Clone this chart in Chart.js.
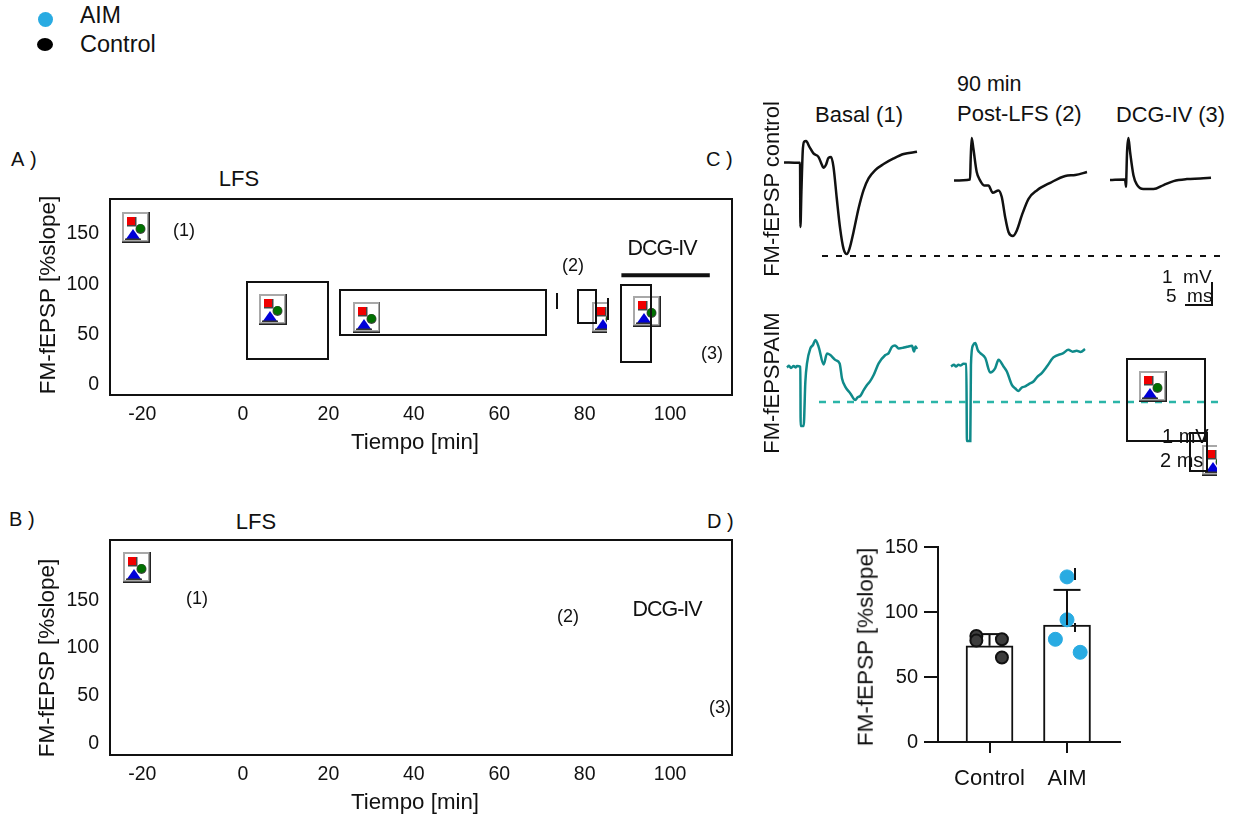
<!DOCTYPE html>
<html>
<head>
<meta charset="utf-8">
<title>FM-fEPSP</title>
<script src="https://cdn.jsdelivr.net/npm/chart.js@4"></script>
<style>
    html, body { margin: 0; padding: 0; background: #fff; }
    #page { position: relative; width: 1243px; height: 816px; overflow: hidden; font-family: "Liberation Sans", Arial, sans-serif; color: #111; }
    #page canvas { position: absolute; }
    .txt { position: absolute; white-space: pre; line-height: 1; }
    .box { position: absolute; border: 2px solid #111; box-sizing: border-box; }
    .icon { position: absolute; overflow: hidden; }
    .dot { position: absolute; border-radius: 50%; }
</style>
</head>
<body>
<div id="page"></div>
<script>
// panels A and B: time course frames
const timeTickPositions = [-23.6, 0, 20, 40, 60, 80, 100];
const timeTickLabels = ['-20', '0', '20', '40', '60', '80', '100'];
const slopeTicks = [0, 50, 100, 150];
const dcgBarTime = [88.6, 109.3];
const dcgBarLevel = [109, 109];

// panel D: bars
const groupNames = ['Control', 'AIM'];
const groupMeans = [74, 90];
const groupUpper = [83, 117];
const controlJitter = [0.83, 0.83, 1.16, 1.16];
const controlValues = [81.5, 78, 79, 65];
const aimJitter = [2, 2, 1.85, 2.17];
const aimValues = [127, 94, 79, 69];
const barTicks = [0, 50, 100, 150];

// panel C: traces, ms and mV from the start of each sweep
const basalControlT = [0, 2.87, 3.2, 3.27, 3.47, 3.73, 4, 4.4, 5.07, 5.87, 6.87, 7.53, 7.87, 8.4, 8.87, 9.4, 9.87, 10.53, 11.2, 11.87, 12.53, 13.07, 13.87, 14.87, 15.87, 16.87, 18.2, 19.87, 21.87, 23.87, 26.53];
const basalControlV = [0, -0.02, -0.02, -3.22, -1.47, 0.53, 1.03, 1.07, 0.78, 0.45, 0.28, -0.1, -0.27, -0.1, 0.23, 0.27, -0.22, -1.8, -3.3, -4.3, -4.57, -4.3, -3.47, -2.3, -1.38, -0.8, -0.38, -0.08, 0.2, 0.42, 0.53];
const postControlT = [0, 3.2, 3.33, 3.53, 3.87, 4.53, 5.2, 6, 6.87, 7.73, 8.87, 9.53, 10.2, 10.87, 11.73, 12.53, 13.53, 14.87, 16.53, 19.2, 22.2, 24.2, 26.53];
const postControlV = [0, 0.05, 1.08, 2.12, 1.58, 0.42, 0, -0.25, -0.25, -0.62, -0.5, -0.83, -1.83, -2.58, -2.78, -2.5, -1.75, -0.92, -0.5, -0.12, 0.22, 0.27, 0.42];
const dcgControlT = [0, 3, 3.2, 3.25, 3.4, 3.67, 4, 4.67, 5.33, 6.67, 8.67, 10.67, 12.67, 15.33, 18, 20.13];
const dcgControlV = [0, 0.03, -0.33, 0.08, 1.42, 2.12, 1.42, 0.25, -0.22, -0.45, -0.45, -0.25, -0.05, 0.05, 0.08, 0.12];
const basalAimT = [0, 0.4, 0.8, 1.33, 1.7, 2, 2.67, 2.73, 3.33, 3.67, 4, 4.67, 5.2, 5.67, 6.33, 7.33, 8, 8.67, 9.67, 10.53, 11, 11.67, 12.67, 13.67, 14.1, 14.67, 15.3, 16, 16.6, 17.33, 18.33, 19.67, 20.3, 21, 21.6, 22.33, 23.2, 24, 25, 25.4, 25.7, 26];
const basalAimV = [0, 0.08, -0.03, 0.07, 0.0, 0.07, 0.03, -2.93, -2.93, -0.72, 0.2, 0.95, 1.12, 1.37, 1.03, 0.15, 0.7, 0.62, 0.37, 0.2, -0.55, -0.97, -1.3, -1.63, -1.5, -1.42, -1.15, -0.88, -0.7, -0.38, 0.2, 0.62, 0.7, 1.03, 1.1, 0.95, 0.98, 1.03, 1.08, 0.8, 1.05, 0.92];
const postAimT = [0, 0.6, 1, 1.5, 1.87, 2.5, 3.07, 3.2, 3.87, 4, 4.4, 4.87, 5.4, 5.87, 6.87, 7.87, 8.87, 9.53, 10.53, 11.2, 12.2, 12.9, 13.53, 14.2, 14.87, 15.6, 16.53, 17.3, 18.2, 19.3, 20.53, 22.53, 23.53, 24.4, 25.2, 26, 26.87];
const postAimV = [0, 0.08, 0.0, 0.09, 0.05, 0.13, 0.12, -3.72, -3.72, 0.08, 1.05, 1.17, 0.8, 0.67, 0.42, -0.3, -0.08, 0.33, 0, -0.25, -0.92, -1.1, -1.22, -1.05, -1, -0.88, -0.75, -0.52, -0.33, 0.02, 0.45, 0.67, 0.83, 0.74, 0.78, 0.72, 0.87];
const refLineT = [0, 81];
const refLineV = [0, 0];
const scaleBarT = [0, 5.4, 5.4];
const scaleBarV = [0, 0, 1.15];

const PX_PER_MS = 5;
const PX_PER_MV = 20;
const FRAME_COLOR = '#111';
const TRACE_TEAL = '#0f8a8a';
const DASH_TEAL = '#2bb5a8';
const AIM_BLUE = '#29abe2';

const page = document.getElementById('page');

function addText(str, x, y, size, opts = {}) {
    const el = document.createElement('span');
    el.className = 'txt';
    el.textContent = str;
    el.style.left = x + 'px';
    el.style.top = y + 'px';
    el.style.fontSize = size + 'px';
    if (opts.spacing) el.style.letterSpacing = opts.spacing + 'px';
    const shift = opts.left ? '0' : '-50%';
    el.style.transform = `translate(${shift}, -50%)` + (opts.rotate ? ' rotate(-90deg)' : '');
    el.style.zIndex = 5;
    page.appendChild(el);
}

function addBox(x1, y1, x2, y2) {
    const el = document.createElement('div');
    el.className = 'box';
    el.style.cssText = `left:${x1}px;top:${y1}px;width:${x2 - x1 + 2}px;height:${y2 - y1 + 2}px;z-index:3`;
    if (x1 === x2) el.style.borderRight = 'none';
    page.appendChild(el);
}

function addIcon(x, y, w = 28, h = 31) {
    const el = document.createElement('div');
    el.className = 'icon';
    el.style.cssText = `left:${x}px;top:${y}px;width:${w}px;height:${h}px;z-index:2`;
    el.innerHTML = `<svg width="28" height="31" viewBox="0 0 28 31" style="display:block">
        <rect width="28" height="31" fill="#222"/>
        <rect width="26.5" height="29.5" fill="#a8a8a8"/>
        <rect x="2" y="2" width="23" height="26" fill="#fff"/>
        <rect x="5" y="5" width="9.5" height="9.5" fill="#444"/>
        <rect x="5" y="5" width="8" height="8" fill="#f00000"/>
        <circle cx="18.5" cy="17" r="5" fill="#444"/>
        <circle cx="18.5" cy="16.5" r="4.3" fill="#007000"/>
        <path d="M4 27 L11 17 L18 27 Z" fill="#0000d8"/>
        <rect x="3" y="26.5" width="16" height="1.5" fill="#333"/>
    </svg>`;
    page.appendChild(el);
}

function addDot(cx, cy, rx, ry, color) {
    const el = document.createElement('div');
    el.className = 'dot';
    el.style.cssText = `left:${cx - rx}px;top:${cy - ry}px;width:${rx * 2}px;height:${ry * 2}px;background:${color}`;
    page.appendChild(el);
}

function addCanvas(x, y, w, h) {
    const canvas = document.createElement('canvas');
    canvas.width = w;
    canvas.height = h;
    canvas.style.left = x + 'px';
    canvas.style.top = y + 'px';
    page.appendChild(canvas);
    return canvas;
}

// scales reserve room for their end labels, drop that so the plot area stays where it is put
function fixScaleSize(scale, size) {
    if (scale.isHorizontal()) scale.height = size;
    else scale.width = size;
    scale.paddingTop = scale.paddingBottom = scale.paddingLeft = scale.paddingRight = 0;
}

const framePlugin = {
    id: 'frame',
    afterDraw(chart) {
        const { ctx, chartArea: a } = chart;
        ctx.save();
        ctx.strokeStyle = FRAME_COLOR;
        ctx.lineWidth = 2;
        ctx.strokeRect(a.left, a.top, a.right - a.left, a.bottom - a.top);
        ctx.restore();
    }
};

// time course frame, plot area is placed exactly on the given box
function createTimeChart(box, yMin, yMax, datasets) {
    const gutterLeft = 100, gutterBottom = 40, pad = 2;
    const canvas = addCanvas(box.left - gutterLeft, box.top - pad,
        box.right - box.left + gutterLeft + pad, box.bottom - box.top + gutterBottom + pad);
    const font = { family: '"Liberation Sans"', size: 19.5 };
    return new Chart(canvas, {
        type: 'line',
        data: { datasets },
        plugins: [framePlugin],
        options: {
            responsive: false,
            animation: false,
            layout: { autoPadding: false, padding: { top: pad, right: pad } },
            plugins: { legend: { display: false }, tooltip: { enabled: false } },
            scales: {
                x: {
                    type: 'linear',
                    min: -31.15,
                    max: 114.5,
                    grid: { display: false, drawTicks: false },
                    border: { display: false },
                    afterBuildTicks: scale => { scale.ticks = timeTickPositions.map(value => ({ value })); },
                    afterFit: scale => fixScaleSize(scale, gutterBottom),
                    ticks: {
                        color: FRAME_COLOR, font, padding: 8, maxRotation: 0, autoSkip: false,
                        callback: value => timeTickLabels[timeTickPositions.indexOf(value)]
                    }
                },
                y: {
                    min: yMin,
                    max: yMax,
                    grid: { display: false, drawTicks: false },
                    border: { display: false },
                    afterBuildTicks: scale => { scale.ticks = slopeTicks.map(value => ({ value })); },
                    afterFit: scale => fixScaleSize(scale, gutterLeft),
                    ticks: { color: FRAME_COLOR, font, padding: 11 }
                }
            }
        }
    });
}

function createBarChart() {
    const canvas = addCanvas(850, 537, 280, 260);
    const tickFont = { family: '"Liberation Sans"', size: 20 };
    const toPoints = (xs, ys) => xs.map((x, i) => ({ x, y: ys[i] }));
    const errorSet = i => ({
        type: 'line',
        data: [{ x: i + 1, y: groupMeans[i] }, { x: i + 1, y: groupUpper[i] }],
        borderColor: FRAME_COLOR,
        borderWidth: 2,
        pointStyle: 'line',
        pointRadius: [0, 13.5],
        pointBorderColor: FRAME_COLOR,
        pointBorderWidth: 2,
        order: 3
    });
    new Chart(canvas, {
        type: 'bar',
        data: {
            datasets: [
                {
                    data: toPoints([1, 2], groupMeans),
                    backgroundColor: '#fff',
                    borderColor: FRAME_COLOR,
                    borderWidth: 2,
                    barThickness: 47,
                    order: 5
                },
                {
                    type: 'scatter',
                    data: toPoints(aimJitter, aimValues),
                    backgroundColor: AIM_BLUE,
                    borderColor: AIM_BLUE,
                    pointRadius: 7,
                    order: 4
                },
                errorSet(0),
                errorSet(1),
                {
                    type: 'scatter',
                    data: toPoints(controlJitter, controlValues),
                    backgroundColor: '#3d3d3d',
                    borderColor: '#111',
                    borderWidth: 2,
                    pointRadius: 6,
                    order: 2
                }
            ]
        },
        options: {
            responsive: false,
            animation: false,
            layout: { autoPadding: false, padding: { top: 10, right: 10 } },
            plugins: { legend: { display: false }, tooltip: { enabled: false } },
            scales: {
                x: {
                    type: 'linear',
                    offset: false,
                    min: 0.335,
                    max: 2.684,
                    grid: { offset: false, drawOnChartArea: false, color: FRAME_COLOR, lineWidth: 2, tickLength: 11 },
                    border: { color: FRAME_COLOR, width: 2 },
                    afterBuildTicks: scale => { scale.ticks = [{ value: 1 }, { value: 2 }]; },
                    afterFit: scale => fixScaleSize(scale, 55),
                    ticks: {
                        color: FRAME_COLOR, font: { family: '"Liberation Sans"', size: 22 }, padding: 13, maxRotation: 0,
                        callback: value => groupNames[value - 1]
                    }
                },
                y: {
                    min: 0,
                    max: 150,
                    grid: { drawOnChartArea: false, color: FRAME_COLOR, lineWidth: 2, tickLength: 14 },
                    border: { color: FRAME_COLOR, width: 2 },
                    afterBuildTicks: scale => { scale.ticks = barTicks.map(value => ({ value })); },
                    afterFit: scale => fixScaleSize(scale, 88),
                    ticks: { color: FRAME_COLOR, font: tickFont, padding: 6 }
                }
            }
        }
    });
}

// one sweep in its own little chart, originX/originY is where t=0, v=0 lands
function createTrace(originX, originY, times, volts, style) {
    const pad = 0.4;
    const tMin = Math.min(...times) - pad, tMax = Math.max(...times) + pad;
    const vMin = Math.min(...volts) - pad, vMax = Math.max(...volts) + pad;
    const canvas = addCanvas(originX + tMin * PX_PER_MS, originY - vMax * PX_PER_MV,
        Math.round((tMax - tMin) * PX_PER_MS), Math.round((vMax - vMin) * PX_PER_MV));
    new Chart(canvas, {
        type: 'line',
        data: {
            datasets: [{
                data: times.map((x, i) => ({ x, y: volts[i] })),
                borderColor: style.color,
                borderWidth: style.width || 2.5,
                borderDash: style.dash || [],
                cubicInterpolationMode: style.smooth ? 'monotone' : 'default',
                pointRadius: 0,
                clip: false
            }]
        },
        options: {
            responsive: false,
            animation: false,
            layout: { autoPadding: false, padding: 0 },
            plugins: { legend: { display: false }, tooltip: { enabled: false } },
            scales: {
                x: { type: 'linear', display: false, min: tMin, max: tMax },
                y: { display: false, min: vMin, max: vMax }
            }
        }
    });
}

// legend
addDot(45, 19, 7.5, 7.5, AIM_BLUE);
addDot(45, 44, 8, 6.5, '#000');
addText('AIM', 80, 15, 23, { left: true });
addText('Control', 80, 45, 23.5, { left: true });

// panels A and B
createTimeChart({ left: 110, top: 199, right: 732, bottom: 395 }, -9.9, 184.8, [{
    data: dcgBarTime.map((x, i) => ({ x, y: dcgBarLevel[i] })),
    borderColor: FRAME_COLOR,
    borderWidth: 4,
    pointRadius: 0
}]);
createTimeChart({ left: 110, top: 540, right: 732, bottom: 755 }, -12.4, 213.2, [{ data: [] }]);
createBarChart();

// panel C traces
createTrace(784, 162.3, basalControlT, basalControlV, { color: '#111', smooth: true });
createTrace(954, 180, postControlT, postControlV, { color: '#111', smooth: true });
createTrace(1110, 180, dcgControlT, dcgControlV, { color: '#111', smooth: true });
createTrace(822, 255.7, refLineT, refLineV, { color: '#111', dash: [6, 8], width: 2 });
createTrace(786.7, 367.3, basalAimT, basalAimV, { color: TRACE_TEAL, smooth: true });
createTrace(950.7, 366.7, postAimT, postAimV, { color: TRACE_TEAL, smooth: true });
createTrace(819, 402, refLineT, refLineV, { color: DASH_TEAL, dash: [7, 7], width: 2.5 });
createTrace(1185, 305, scaleBarT, scaleBarV, { color: '#111', width: 2 });

// placeholder icons and empty boxes left in the figure
addIcon(122, 212);
addIcon(259, 294);
addIcon(353, 302, 27, 31);
addIcon(592, 302, 15, 31);
addIcon(633, 296);
addIcon(1139, 371);
addIcon(1202, 445, 15, 31);
addIcon(123, 552);
addBox(246, 281, 327, 358);
addBox(339, 289, 545, 334);
addBox(556, 293, 556, 307);
addBox(577, 289, 595, 322);
addBox(607, 298, 607, 318);
addBox(620, 284, 650, 361);
addBox(1126, 358, 1204, 440);
addBox(1189, 432, 1206, 470);
// stray slivers beside the blue dots in panel D
addBox(1074, 568, 1074, 578);
addBox(1074, 623, 1074, 630);

// text
addText('A )', 11, 159, 20, { left: true, spacing: 0.6 });
addText('B )', 9, 519, 20, { left: true });
addText('C )', 706, 159, 20, { left: true });
addText('D )', 707, 521, 20, { left: true });
addText('LFS', 239, 179, 22);
addText('LFS', 256, 522, 22);
addText('(1)', 184, 230, 18);
addText('(2)', 573, 265, 18);
addText('(3)', 712, 353, 18);
addText('DCG-IV', 662, 249, 21.5, { spacing: -1 });
addText('(1)', 197, 598, 18);
addText('(2)', 568, 616, 18);
addText('(3)', 720, 707, 18);
addText('DCG-IV', 667, 610, 21.5, { spacing: -1 });
addText('FM-fEPSP [%slope]', 48, 295, 22.5, { rotate: true });
addText('FM-fEPSP [%slope]', 47, 658, 22.5, { rotate: true });
addText('FM-fEPSP [%slope]', 866, 647, 22.5, { rotate: true });
addText('Tiempo [min]', 415, 442, 22.3);
addText('Tiempo [min]', 415, 802, 22.3);
addText('Basal (1)', 859, 115, 22);
addText('90 min', 957, 85, 21.5, { left: true });
addText('Post-LFS (2)', 957, 114, 22, { left: true });
addText('DCG-IV (3)', 1116, 115, 21.8, { left: true });
addText('FM-fEPSP control', 772, 189, 22, { rotate: true });
addText('FM-fEPSPAIM', 772, 383, 22, { rotate: true });
addText('1  mV', 1162, 276, 19, { left: true });
addText('5  ms', 1166, 295, 19, { left: true });
addText('1 mV', 1162, 436, 20, { left: true });
addText('2 ms', 1160, 460, 20, { left: true });
</script>
</body>
</html>
